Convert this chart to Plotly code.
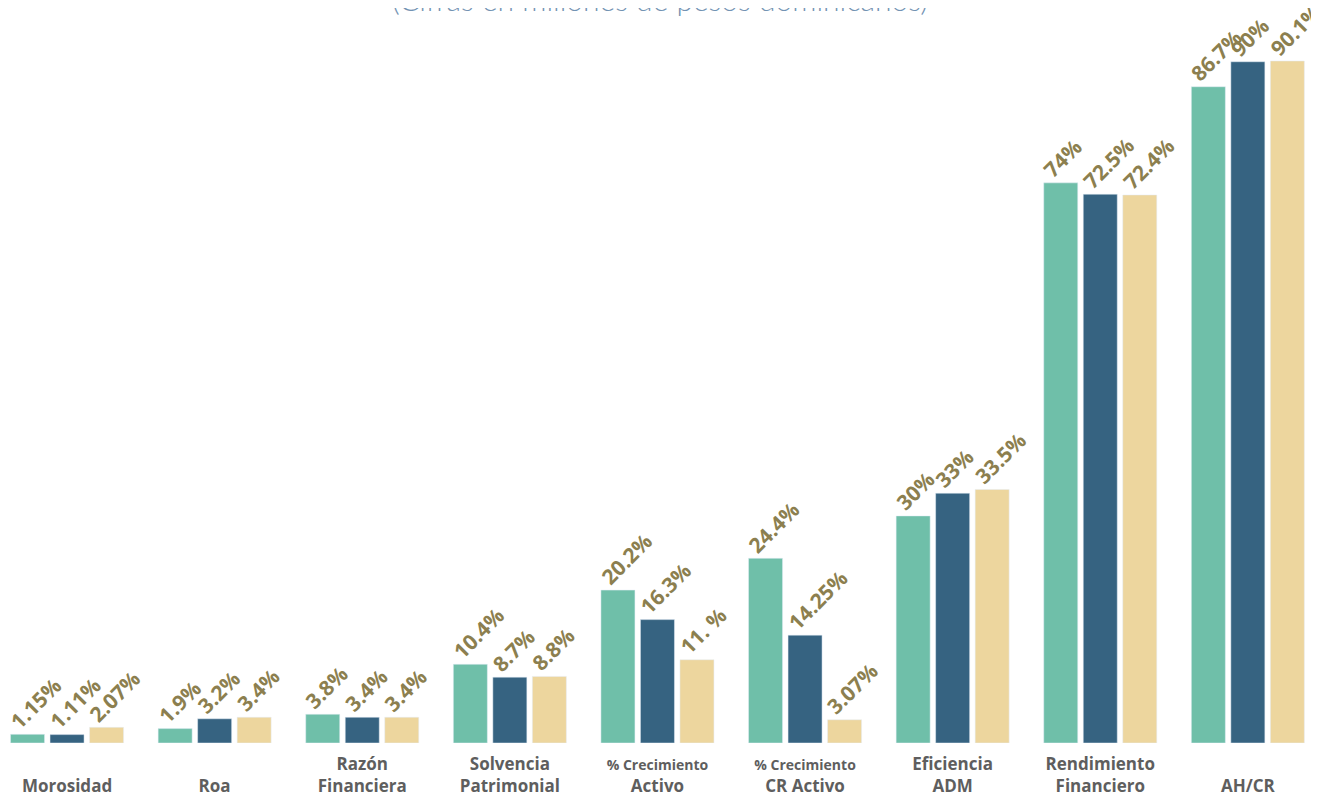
import plotly.graph_objects as go

categories = ["Morosidad", "Roa", "Razón Financiera", "Solvencia Patrimonial",
              "% Crecimiento Activo", "% Crecimiento CR Activo", "Eficiencia ADM",
              "Rendimiento Financiero", "AH/CR"]
tick_labels = ["<br>Morosidad", "<br>Roa", "Razón<br>Financiera", "Solvencia<br>Patrimonial",
               "<span style='font-size:14px'>% Crecimiento</span><br>Activo",
               "<span style='font-size:14px'>% Crecimiento</span><br>CR Activo",
               "Eficiencia<br>ADM", "Rendimiento<br>Financiero", "<br>AH/CR"]

serie_a = [1.15, 1.9, 3.8, 10.4, 20.2, 24.4, 30, 74, 86.7]
serie_b = [1.11, 3.2, 3.4, 8.7, 16.3, 14.25, 33, 72.5, 90]
serie_c = [2.07, 3.4, 3.4, 8.8, 11, 3.07, 33.5, 72.4, 90.1]

labels_a = ["1.15%", "1.9%", "3.8%", "10.4%", "20.2%", "24.4%", "30%", "74%", "86.7%"]
labels_b = ["1.11%", "3.2%", "3.4%", "8.7%", "16.3%", "14.25%", "33%", "72.5%", "90%"]
labels_c = ["2.07%", "3.4%", "3.4%", "8.8%", "11. %", "3.07%", "33.5%", "72.4%", "90.1%"]

colors = ["#6FBFA9", "#366381", "#EDD69E"]
label_color = "#8C7F4F"

series = [(serie_a, labels_a), (serie_b, labels_b), (serie_c, labels_c)]

fig = go.Figure()
for (vals, labs), col in zip(series, colors):
    fig.add_trace(go.Bar(x=categories, y=vals, marker_color=col, hoverinfo="skip"))

# value labels, rotated, starting at each bar's left edge
annotations = []
slot_px = 39.5
bar_px = 34
for j, (vals, labs) in enumerate(series):
    offset = (j - 1) * slot_px - bar_px / 2
    for cat, v, lab in zip(categories, vals, labs):
        annotations.append(dict(
            x=cat, y=v, xref="x", yref="y", text=lab, showarrow=False,
            textangle=-45, xanchor="left", yanchor="bottom",
            xshift=offset - 9, yshift=-3,
            font=dict(family="Open Sans", size=21, color=label_color, weight="bold"),
        ))

annotations.append(dict(
    text="(Cifras en millones de pesos dominicanos)",
    xref="paper", yref="paper", x=0.497, y=1.0,
    xanchor="center", yanchor="middle", yshift=9, showarrow=False,
    font=dict(family="Lato", size=30, color="#7393B3", weight=300)))

fig.update_layout(
    width=1311, height=790,
    margin=dict(l=0, r=0, t=0, b=55),
    barmode="group", bargap=0.197, bargroupgap=0.139,
    paper_bgcolor="white", plot_bgcolor="white",
    showlegend=False,
    xaxis=dict(type="category", range=[-0.4, 8.482], tickmode="array",
               tickvals=categories, ticktext=tick_labels,
               showgrid=False, showline=False, zeroline=False, ticks="",
               ticklabelstandoff=9,
               tickfont=dict(family="Open Sans", size=17, color="#5E5E5E", weight="bold")),
    yaxis=dict(range=[0, 97.1], visible=False, showgrid=False, zeroline=False),
    annotations=annotations,
)

fig.write_html("out.html")
